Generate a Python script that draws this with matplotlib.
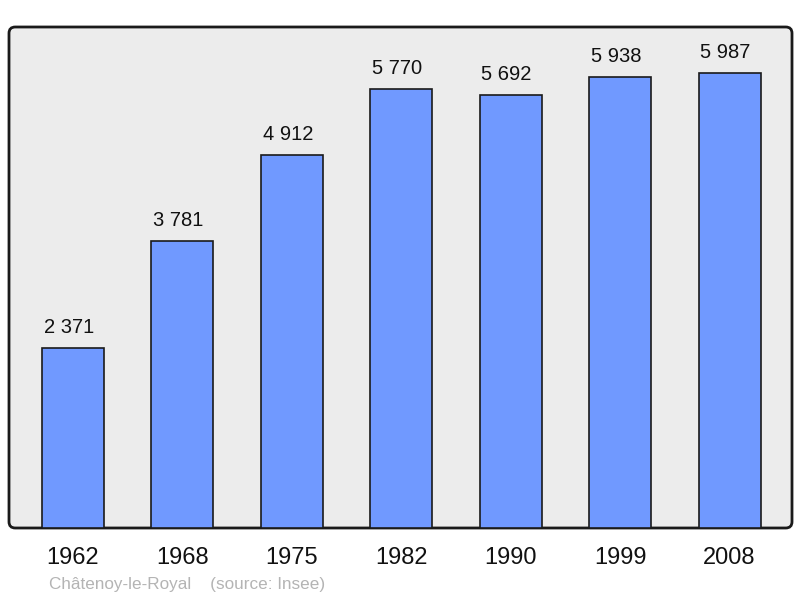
import matplotlib.pyplot as plt
from matplotlib.patches import FancyBboxPatch

# Population data
years = ['1962', '1968', '1975', '1982', '1990', '1999', '2008']
population = [2371, 3781, 4912, 5770, 5692, 5938, 5987]
value_labels = ['2 371', '3 781', '4 912', '5 770', '5 692', '5 938', '5 987']

plt.rcParams['font.family'] = ['Liberation Sans', 'DejaVu Sans']

fig = plt.figure(figsize=(8, 5.98), dpi=100)
ax = fig.add_axes([9 / 800, 70 / 598, 783 / 800, 501 / 598])
ax.set_facecolor('none')

# Rounded frame behind the bars
frame = FancyBboxPatch((0, 0), 1, 1, boxstyle='round,pad=0,rounding_size=0.008',
                       mutation_aspect=783 / 501, transform=ax.transAxes,
                       facecolor='#ececec', edgecolor='#1a1a1a', linewidth=2,
                       clip_on=False, zorder=0)
ax.add_patch(frame)

x = range(len(years))
ax.bar(x, population, width=0.567, color='#7099ff', edgecolor='#1a1a1a',
       linewidth=1.2, zorder=2)

for i, (v, lab) in enumerate(zip(population, value_labels)):
    ax.annotate(lab, (i, v), xytext=(-4, 11), textcoords='offset pixels',
                ha='center', va='bottom', fontsize=14.5, color='#111111')

ax.set_xlim(-0.585, 6.571)
ax.set_ylim(0, 6590)
for s in ax.spines.values():
    s.set_visible(False)
ax.set_yticks([])
ax.set_xticks(list(x))
ax.set_xticklabels(years, fontsize=17, color='#111111')
ax.tick_params(axis='x', length=0, pad=14)

fig.text(49 / 800, 1 - 585 / 598, 'Châtenoy-le-Royal    (source: Insee)',
         fontsize=12.3, color='#b4b4b4', ha='left', va='center')

fig.savefig('out.png', dpi=100)
